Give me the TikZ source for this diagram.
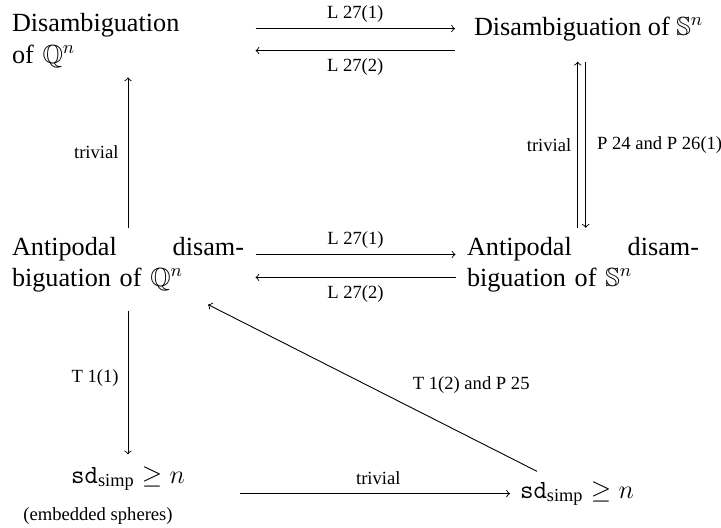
\RequirePackage{fix-cm}
\documentclass[tikz,border=0pt]{standalone}
\usepackage{amssymb}
\usepackage{fontspec}
\setmainfont{Liberation Serif}
\begin{document}
\begin{tikzpicture}[x=0.5pt,y=-0.5pt,
    obj/.style={inner sep=0pt, outer xsep=5.75pt, outer ysep=4.5pt, font=\fontsize{13.1}{15.7}\selectfont},
    wide/.style={obj, text width=116pt},
    lbl/.style={font=\fontsize{9.3}{11}\selectfont, inner sep=3pt},
    arr/.style={->, line width=0.45pt}]
            \useasboundingbox (0,0) rectangle (721,527);

            % Draw the four corner objects
            \node[wide, align=left, anchor=base west, outer ysep=5pt] (dq) at (0.5,31.6) {Disambiguation\\of $\mathbb{Q}^n$};
            \node[obj, anchor=base west, outer xsep=9.5pt, outer ysep=10.5pt] (ds) at (455,35) {Disambiguation of $\mathbb{S}^n$};
            \node[wide, align=left, anchor=base west] (aq) at (0.5,255) {\makebox[\linewidth]{Antipodal\hfill disam-}\\biguation of $\mathbb{Q}^n$};
            \node[wide, align=left, anchor=base west] (as) at (455.5,255) {\makebox[\linewidth]{Antipodal\hfill disam-}\\biguation of $\mathbb{S}^n$};

            % Bottom row
            \node[obj, anchor=base, outer ysep=6pt] (sdq) at (128,483) {$\texttt{sd}_{\mathrm{simp}} \geq n$};
            \node[lbl, inner sep=0pt, anchor=base west] (emb) at (23,520) {(embedded spheres)};
            \node[obj, anchor=base west, outer sep=5pt] (sds) at (510,498) {$\texttt{sd}_{\mathrm{simp}} \geq n$};

            % Horizontal arrows
            \draw[arr] (dq.east |- ds.west) -- (ds.west) node[lbl, midway, above] {L 27(1)};
            \draw[arr, transform canvas={yshift=-11pt}] (ds.west) -- (dq.east |- ds.west) node[lbl, midway, below=1pt] {L 27(2)};
            \draw[arr, transform canvas={yshift=5pt}] (aq.east) -- (as.west) node[lbl, midway, above] {L 27(1)};
            \draw[arr, transform canvas={yshift=-6.5pt}] (as.west) -- (aq.east) node[lbl, midway, below=1pt] {L 27(2)};
            \draw[arr, shorten <=21.75pt] (sdq.east |- sds.west) -- (sds.west) node[lbl, pos=0.58, above=1pt] {trivial};

            % Vertical arrows
            \draw[arr] (aq.north) -- (dq.south) node[lbl, midway, left=1.5pt] {trivial};
            \draw[arr, shorten <=5pt] (aq.south) -- (sdq.north) node[lbl, midway, left=1.5pt] {T 1(1)};
            \draw[arr, transform canvas={xshift=-2.65pt}] (as.north) -- (as.north |- ds.south) node[lbl, midway, left] {trivial};
            \draw[arr, transform canvas={xshift=1.35pt}] (as.north |- ds.south) -- (as.north) node[lbl, midway, right=2.5pt] {P 24 and P 26(1)};

            % Diagonal arrow
            \draw[arr] ([xshift=13.5pt]sds.north west) -- ([xshift=40pt,yshift=-1.75pt]aq.south) node[lbl, pos=0.2, above=19pt] {T 1(2) and P 25};
        \end{tikzpicture}
\end{document}
